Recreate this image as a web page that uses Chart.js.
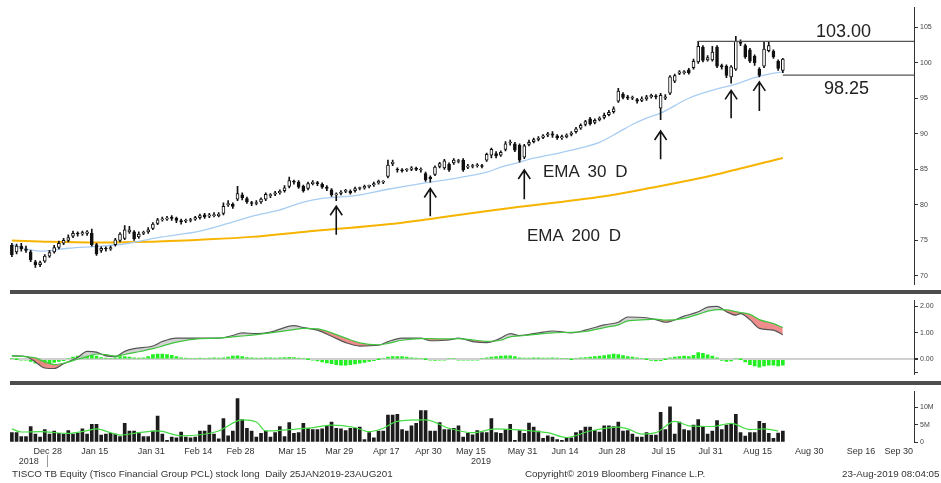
<!DOCTYPE html>
<html>
<head>
<meta charset="utf-8">
<script src="https://cdn.jsdelivr.net/npm/chart.js@4.4.1/dist/chart.umd.min.js"></script>
<style>
  body { margin: 0; background: #fff; width: 941px; height: 483px; overflow: hidden; position: relative; font-family: "Liberation Sans", Arial, sans-serif; }
  canvas { position: absolute; left: 0; }
  .t { position: absolute; white-space: nowrap; color: #222; }
  .big { font-size: 17px; line-height: 20px; word-spacing: 4px; }
  .lvl { font-size: 18px; line-height: 20px; }
  .foot { font-size: 9.8px; line-height: 12px; top: 468px; color: #333; }
  .sep { position: absolute; left: 10px; width: 931px; height: 4px; background: #4d4d4d; }
</style>
</head>
<body>
<canvas id="price" width="941" height="291" style="top:0"></canvas>
<div class="sep" style="top:290px"></div>
<canvas id="macd" width="941" height="87" style="top:294px"></canvas>
<div class="sep" style="top:381px"></div>
<canvas id="vol" width="941" height="85" style="top:385px"></canvas>

<div class="t big" style="left:543px;top:162px">EMA 30 D</div>
<div class="t big" style="left:527px;top:226px">EMA 200 D</div>
<div class="t lvl" id="lvlHi" style="left:816px;top:21px"></div>
<div class="t lvl" id="lvlLo" style="left:824px;top:78px"></div>
<div class="t foot" style="left:12px">TISCO TB Equity (Tisco Financial Group PCL) stock long&nbsp; Daily 25JAN2019-23AUG201</div>
<div class="t foot" style="left:525px">Copyright© 2019 Bloomberg Finance L.P.</div>
<div class="t foot" style="left:842px">23-Aug-2019 08:04:05</div>

<script>
// daily candles, trading day index 0 = 19 Dec 2018 ... 164 = 23 Aug 2019
var open = [74.3,73.4,74.2,73.8,73.4,72.0,71.6,72.1,72.8,73.4,
  74.0,74.6,75.0,75.6,76.0,75.9,76.0,76.0,74.4,73.6,
  73.9,73.8,74.4,75.0,75.3,76.2,76.2,75.5,76.0,76.2,
  76.7,77.4,77.9,78.0,78.3,78.1,77.8,77.7,77.8,78.0,
  78.2,78.6,78.4,78.5,78.5,78.8,80.0,80.1,80.8,81.4,
  80.9,80.3,80.2,80.4,80.8,81.3,81.5,81.7,82.0,82.6,
  83.3,83.2,82.6,82.3,83.0,83.1,82.9,82.5,82.1,81.4,
  81.6,81.9,81.9,82.0,82.3,82.4,82.6,82.8,83.1,83.2,
  84.0,85.8,85.0,84.9,84.9,85.0,85.1,84.9,84.4,83.9,
  84.3,85.4,85.2,85.7,85.9,86.1,86.3,85.3,85.4,85.5,
  85.5,86.3,87.0,87.2,87.0,87.8,88.7,88.6,88.4,86.7,
  88.5,88.9,89.2,89.5,89.8,90.0,89.7,89.4,89.6,89.9,
  90.3,90.8,91.3,92.1,91.6,92.0,92.3,92.7,93.1,94.6,
  95.6,95.2,95.0,94.8,94.7,94.9,95.2,95.3,93.6,95.0,
  95.7,97.4,98.5,98.6,99.0,99.3,100.1,102.2,100.4,100.4,
  102.2,99.6,99.5,98.0,99.1,103.0,102.4,101.8,100.9,99.1,
  99.5,101.7,101.6,100.2,98.9];
var high = [74.6,74.5,74.6,74.2,73.6,72.2,72.1,73.0,73.6,74.3,
  74.9,75.3,75.8,76.3,76.2,76.3,76.4,76.6,74.6,74.1,
  74.1,74.2,75.3,76.1,77.1,77.0,76.4,76.2,76.3,76.8,
  77.5,78.1,78.3,78.4,78.5,78.3,78.0,78.0,78.1,78.4,
  78.7,78.8,78.8,78.9,78.9,80.3,80.6,80.3,82.6,81.7,
  81.1,80.5,80.6,81.0,81.7,81.6,81.9,82.1,82.7,83.9,
  83.5,83.4,82.8,83.2,83.4,83.3,83.1,82.7,82.3,81.7,
  82.0,82.2,82.1,82.5,82.5,82.8,82.8,83.2,83.5,83.4,
  86.3,86.3,85.2,85.1,85.1,85.4,85.3,85.2,84.6,84.1,
  85.5,86.0,86.4,85.9,86.5,86.4,86.5,85.7,85.7,85.8,
  85.7,87.3,88.0,87.5,87.6,88.9,89.1,88.8,88.6,88.5,
  89.1,89.4,89.6,89.9,90.2,90.3,89.9,89.8,90.0,90.3,
  90.9,91.4,91.9,92.3,92.1,92.4,92.9,93.3,93.8,96.4,
  95.8,95.4,95.3,95.0,95.2,95.4,95.6,95.5,95.7,95.5,
  98.2,98.4,98.9,98.9,99.2,100.5,103.0,102.4,101.0,102.3,
  102.4,99.8,99.7,99.6,103.7,103.2,102.6,102.0,101.1,99.3,
  103.0,103.0,101.8,100.4,100.6];
var low = [72.7,73.1,73.5,73.3,72.0,71.2,71.3,71.9,72.6,73.2,
  73.8,74.4,74.8,75.4,75.6,75.7,75.7,74.2,72.9,73.3,
  73.5,73.6,74.2,74.8,75.1,76.0,75.0,75.3,75.8,76.0,
  76.5,77.2,77.7,77.8,77.8,77.5,77.3,77.5,77.6,77.8,
  78.0,78.1,78.2,78.3,78.3,78.6,79.8,79.5,80.6,80.7,
  80.2,79.9,80.0,80.2,80.6,81.0,81.3,81.5,81.8,82.4,
  82.9,82.3,81.8,82.1,82.8,82.7,82.3,82.0,81.2,80.6,
  81.4,81.7,81.5,81.8,82.1,82.2,82.4,82.6,82.9,83.0,
  83.8,85.5,84.6,84.6,84.7,84.8,84.8,84.6,83.3,83.2,
  84.1,85.2,85.0,84.7,85.7,85.9,84.7,85.1,85.2,85.3,
  85.2,86.1,86.6,86.6,86.8,87.6,88.4,87.5,86.0,86.5,
  88.3,88.7,89.0,89.3,89.6,89.5,89.2,89.2,89.4,89.7,
  90.1,90.6,91.1,91.2,91.4,91.8,92.1,92.5,92.9,94.4,
  94.9,94.8,94.8,94.3,94.5,94.7,95.0,94.9,92.0,94.8,
  95.5,97.2,98.3,98.4,98.4,99.1,99.9,100.1,100.2,100.2,
  99.3,99.1,97.9,97.1,98.9,102.4,100.6,100.0,99.6,98.0,
  99.3,101.5,100.6,98.9,98.6];
var close = [73.0,74.2,73.8,73.6,72.3,71.6,71.9,72.8,73.3,74.0,
  74.6,75.0,75.4,76.0,75.9,76.1,76.2,74.4,73.1,73.9,
  73.8,74.0,75.1,75.9,76.5,76.5,75.2,75.9,76.1,76.5,
  77.3,77.9,78.0,78.1,78.1,77.8,77.6,77.8,77.9,78.2,
  78.5,78.3,78.6,78.6,78.7,79.8,80.2,79.8,81.6,81.0,
  80.4,80.2,80.3,80.8,81.5,81.3,81.7,81.9,82.4,83.4,
  83.2,82.5,82.0,83.0,83.2,83.0,82.5,82.3,81.4,81.5,
  81.8,82.0,81.7,82.3,82.3,82.6,82.6,83.0,83.3,83.2,
  85.6,86.0,84.9,84.8,84.9,85.2,85.0,84.9,83.5,83.7,
  85.3,85.8,86.2,84.9,86.3,86.2,84.9,85.4,85.4,85.6,
  85.4,87.1,87.8,86.9,87.4,88.6,88.8,87.7,86.3,88.3,
  88.8,89.2,89.4,89.7,90.0,89.8,89.4,89.6,89.8,90.1,
  90.7,91.2,91.7,91.4,91.9,92.2,92.6,93.0,93.5,96.0,
  95.1,95.0,95.1,94.6,94.9,95.2,95.4,95.2,95.4,95.2,
  98.0,98.2,98.7,98.7,98.6,100.2,102.3,100.3,100.7,101.5,
  99.5,99.4,98.2,99.4,103.0,102.7,100.8,100.2,100.0,98.2,
  101.9,102.4,100.8,99.2,100.5];

// moving averages (read at sample days)
var ema30Day = [0,6,12,19,24,31,40,48,51,57,62,66,73,80,87,94,101,104,108,110,117,125,129,132,135,138,144,150,154,158,161,164];
var ema30 = [74.4,73.5,73.9,74.2,74.5,75.4,76.3,77.8,78.4,79.3,80.4,80.9,81.3,82.2,83.0,83.7,84.6,85.3,86.0,86.4,87.4,88.8,90.2,91.3,92.2,92.9,95.0,96.3,97.0,97.9,98.4,98.7];
var ema200Day = [0,8,19,29,40,51,62,83,104,126,136,146,164];
var ema200 = [75.0,74.8,74.7,74.8,75.1,75.5,76.2,77.5,79.4,81.2,82.4,83.7,86.6];

// resistance / support
var levels = [103.00, 98.25];
var levelFrom = [146, 164];

// arrows: day, tip price, tail price
var arrowDay = [69, 89, 109, 138, 153, 159];
var arrowTip = [79.8, 82.3, 84.9, 90.4, 96.1, 97.3];
var arrowTail = [75.8, 78.4, 80.8, 86.4, 92.2, 93.2];

// MACD
var macdDay = [0,3,5,7,9,11,14,16,18,20,22,24,26,30,32,35,40,44,47,49,52,55,60,62,65,68,71,74,78,80,83,87,89,93,95,98,101,104,106,108,112,115,119,122,126,129,131,135,137,139,143,146,148,150,152,154,155,157,159,162,164];
var macdLine = [0.13,0.10,-0.10,-0.33,-0.35,-0.17,0.07,0.30,0.27,0.13,0.10,0.30,0.40,0.50,0.67,0.80,0.80,0.80,0.90,1.00,0.97,1.03,1.27,1.20,1.10,0.87,0.63,0.50,0.53,0.67,0.80,0.80,0.70,0.73,0.80,0.67,0.63,0.80,0.97,0.90,1.00,1.07,1.00,1.10,1.30,1.40,1.60,1.57,1.50,1.40,1.63,1.80,1.97,2.00,1.80,1.67,1.73,1.50,1.17,1.10,0.93];
var macdSignal = [0.13,0.10,0.05,-0.10,-0.20,-0.15,0.00,0.10,0.20,0.18,0.12,0.18,0.25,0.40,0.50,0.65,0.78,0.80,0.85,0.88,0.93,1.00,1.12,1.17,1.15,1.00,0.80,0.62,0.55,0.60,0.72,0.78,0.78,0.77,0.78,0.73,0.68,0.72,0.85,0.88,0.95,1.00,1.02,1.05,1.20,1.30,1.45,1.50,1.52,1.48,1.55,1.70,1.82,1.88,1.87,1.80,1.77,1.70,1.50,1.35,1.20];
var macdHist = [0.02,0.00,-0.02,-0.03,-0.08,-0.15,-0.20,-0.22,-0.18,-0.12,
  -0.08,-0.05,0.03,0.08,0.12,0.15,0.17,0.17,0.12,0.06,
  0.04,0.03,0.05,0.10,0.10,0.08,0.05,0.04,0.05,0.10,
  0.18,0.20,0.20,0.18,0.15,0.10,0.05,0.04,0.03,0.03,
  0.04,0.03,0.04,0.05,0.04,0.05,0.08,0.12,0.13,0.10,
  0.06,0.05,0.04,0.04,0.05,0.05,0.04,0.05,0.06,0.07,
  0.06,0.04,0.02,0.00,-0.03,-0.06,-0.10,-0.14,-0.17,-0.20,
  -0.22,-0.22,-0.20,-0.18,-0.15,-0.12,-0.08,-0.05,0.00,0.03,
  0.08,0.10,0.10,0.10,0.08,0.05,0.04,0.02,0.00,-0.02,
  -0.04,-0.03,-0.01,0.02,0.01,-0.02,-0.03,-0.03,-0.02,-0.02,
  0.02,0.05,0.08,0.10,0.12,0.13,0.13,0.10,0.05,0.04,
  0.04,0.05,0.05,0.04,0.04,0.05,0.04,0.03,0.02,0.00,
  0.03,0.05,0.06,0.08,0.10,0.12,0.14,0.17,0.20,0.18,
  0.14,0.10,0.08,0.05,0.03,0.00,-0.04,-0.06,-0.05,0.00,
  0.05,0.08,0.10,0.12,0.10,0.15,0.25,0.22,0.17,0.12,
  0.05,-0.04,-0.08,-0.06,0.02,0.00,-0.10,-0.20,-0.25,-0.30,
  -0.25,-0.22,-0.22,-0.25,-0.22];

// volume, millions
var volume = [2.7,2.7,1.6,1.6,4.5,2.3,1.4,3.6,2.3,3.2,
  2.5,2.3,3.3,2.3,2.5,3.8,2.3,5.1,5.1,2.0,
  2.3,2.5,2.3,1.6,5.4,3.2,3.2,2.7,1.6,1.6,
  3.2,7.5,2.3,0.5,1.4,1.2,2.9,1.4,1.2,1.4,
  3.2,3.2,4.9,2.3,0.9,6.8,1.8,3.2,12.6,6.5,
  4.0,3.2,1.4,2.5,3.2,1.4,2.7,4.5,1.6,5.6,
  2.5,2.7,5.4,3.9,3.6,3.6,3.8,4.7,5.8,4.0,
  3.8,3.3,4.0,4.0,4.3,0.7,2.7,1.2,3.2,3.2,
  7.8,7.8,8.0,3.6,3.2,4.7,5.4,9.1,9.1,3.2,
  3.2,5.6,3.6,3.6,4.0,4.7,1.4,2.5,2.1,3.3,
  2.7,2.7,6.8,2.7,2.5,3.6,5.1,0.5,3.3,2.5,
  5.5,4.3,3.2,1.1,1.8,1.4,0.7,0.5,1.2,1.2,
  2.7,3.3,4.3,4.3,3.3,2.9,4.7,4.7,4.5,5.8,
  3.2,3.3,2.3,1.4,1.4,2.7,2.0,2.0,8.6,3.6,
  10.2,2.3,5.8,3.6,3.3,4.9,6.5,4.5,2.3,3.2,
  6.2,3.6,4.9,5.4,8.0,2.7,1.7,2.7,2.7,6.0,
  5.4,2.5,1.1,2.6,3.2];
var volMaDay = [0,2,6,12,16,18,21,23,27,31,36,40,44,49,52,54,59,63,68,73,76,79,82,88,93,98,103,110,114,118,123,129,131,134,137,141,144,149,153,157,160,163];
var volMa = [3.8,2.9,3.0,2.5,3.3,3.8,2.7,2.0,2.7,3.2,1.8,2.1,3.2,6.4,5.8,3.2,3.6,4.0,4.9,4.2,3.0,4.0,6.0,6.4,4.0,2.7,3.8,3.3,2.7,1.3,3.2,4.3,3.8,2.3,2.7,6.0,4.7,4.5,5.4,3.6,3.8,3.2];

// axes
var priceTicks = [70,75,80,85,90,95,100,105];
var macdTicks = [-0.5,0,1,2];
var volTicks = [0,5,10];
var tickLabels = ['Dec 28','Jan 15','Jan 31','Feb 14','Feb 28','Mar 15','Mar 29','Apr 17','Apr 30','May 15','May 31','Jun 14','Jun 28','Jul 15','Jul 31','Aug 15','Aug 30','Sep 16','Sep 30'];
var tickDays = [7,17,29,39,48,59,69,79,88,97,108,117,127,138,148,158,169,180,188];
var yearLabels = ['2018','2019'];
var yearDays = [3.6,99.8];
var yearBreak = 7.5;

var xMin = -0.4, xMax = 191.9;
var FONT = '"Liberation Sans", Arial, sans-serif';

document.getElementById('lvlHi').textContent = levels[0].toFixed(2);
document.getElementById('lvlLo').textContent = levels[1].toFixed(2);

function pts(days, vals) { return days.map(function (d, i) { return { x: d, y: vals[i] }; }); }

function xAxis() { return { type: 'linear', min: xMin, max: xMax, offset: false, display: false }; }

function yAxis(min, max, ticks, fmt, grid) {
  return {
    position: 'right', min: min, max: max,
    afterFit: function (s) { s.width = 27; },
    afterBuildTicks: function (s) { s.ticks = ticks.map(function (v) { return { value: v }; }); },
    grid: Object.assign({ drawOnChartArea: false, drawTicks: true, tickLength: 4, tickColor: '#333' }, grid || {}),
    border: { display: true, color: '#333', width: 1 },
    ticks: { font: { size: 7, family: FONT }, color: '#444', padding: 2, callback: fmt }
  };
}

var baseOpts = {
  responsive: false, animation: false, devicePixelRatio: 1,
  plugins: { legend: { display: false }, tooltip: { enabled: false } }
};

var arrows = {
  id: 'arrows',
  afterDatasetsDraw: function (c) {
    var ctx = c.ctx, x = c.scales.x, y = c.scales.y;
    ctx.save();
    ctx.strokeStyle = '#111';
    ctx.lineWidth = 1.6;
    arrowDay.forEach(function (d, i) {
      var px = x.getPixelForValue(d), top = y.getPixelForValue(arrowTip[i]), bot = y.getPixelForValue(arrowTail[i]);
      ctx.beginPath();
      ctx.moveTo(px, bot); ctx.lineTo(px, top);
      ctx.moveTo(px - 6, top + 9); ctx.lineTo(px, top); ctx.lineTo(px + 6, top + 9);
      ctx.stroke();
    });
    ctx.restore();
  }
};

// price panel
var days = close.map(function (v, i) { return i; });
new Chart(document.getElementById('price'), {
  type: 'bar',
  data: {
    datasets: [
      { type: 'line', data: pts(ema200Day, ema200), borderColor: '#f6b400', borderWidth: 2, pointRadius: 0, cubicInterpolationMode: 'monotone', order: 6 },
      { type: 'line', data: pts(ema30Day, ema30), borderColor: '#a8cdf3', borderWidth: 1.3, pointRadius: 0, cubicInterpolationMode: 'monotone', order: 5 },
      { data: days.map(function (i) { return { x: i, y: [low[i], high[i]] }; }), backgroundColor: '#111', barThickness: 1, grouped: false, order: 4 },
      { data: days.map(function (i) { return { x: i, y: [open[i], close[i]] }; }),
        backgroundColor: days.map(function (i) { return close[i] >= open[i] ? '#ffffff' : '#111111'; }),
        borderColor: '#111', borderWidth: 1, borderSkipped: false, barThickness: 3, minBarLength: 1, grouped: false, order: 3 },
      { type: 'line', data: [{ x: levelFrom[0], y: levels[0] }, { x: xMax, y: levels[0] }], borderColor: '#555', borderWidth: 1.2, pointRadius: 0, order: 1 },
      { type: 'line', data: [{ x: levelFrom[1], y: levels[1] }, { x: xMax, y: levels[1] }], borderColor: '#555', borderWidth: 1.2, pointRadius: 0, order: 1 }
    ]
  },
  options: Object.assign({}, baseOpts, {
    layout: { padding: { left: 10, top: 7, right: 0, bottom: 1 } },
    scales: { x: xAxis(), y: yAxis(68.76, 107.83, priceTicks, function (v) { return String(v); }) }
  }),
  plugins: [arrows]
});

// MACD panel
new Chart(document.getElementById('macd'), {
  type: 'bar',
  data: {
    datasets: [
      { type: 'line', data: pts(macdDay, macdLine), borderColor: '#555', borderWidth: 1.2, pointRadius: 0, cubicInterpolationMode: 'monotone',
        fill: { target: '+1', above: 'rgba(205,205,205,0.9)', below: 'rgba(240,128,128,0.9)' }, order: 2 },
      { type: 'line', data: pts(macdDay, macdSignal), borderColor: '#3ec63e', borderWidth: 1.2, pointRadius: 0, cubicInterpolationMode: 'monotone', fill: false, order: 1 },
      { data: days.map(function (i) { return { x: i, y: macdHist[i] }; }), backgroundColor: '#22ee22', barThickness: 3, minBarLength: 1, grouped: false, order: 3 }
    ]
  },
  options: Object.assign({}, baseOpts, {
    layout: { padding: { left: 10, top: 2, right: 0, bottom: 1 } },
    scales: {
      x: xAxis(),
      y: yAxis(-0.588, 2.235, macdTicks, function (v) { return v >= 0 ? v.toFixed(2) : ''; }, {
        drawOnChartArea: true,
        color: function (c) { return c.tick && c.tick.value === 0 ? '#d0d0d0' : 'rgba(0,0,0,0)'; },
        lineWidth: function (c) { return c.tick && c.tick.value === 0 ? 2 : 1; }
      })
    }
  })
});

// volume panel + date axis
var dateAxis = {
  id: 'dateAxis',
  afterDraw: function (c) {
    var ctx = c.ctx, x = c.scales.x;
    ctx.save();
    ctx.font = '9px ' + FONT;
    ctx.fillStyle = '#333';
    ctx.textAlign = 'center';
    ctx.textBaseline = 'middle';
    tickLabels.forEach(function (t, i) { ctx.fillText(t, x.getPixelForValue(tickDays[i]) + 3, 67); });
    yearLabels.forEach(function (t, i) { ctx.fillText(t, x.getPixelForValue(yearDays[i]), 77); });
    var bx = Math.round(x.getPixelForValue(yearBreak)) + 0.5;
    ctx.strokeStyle = '#999';
    ctx.lineWidth = 1;
    ctx.beginPath(); ctx.moveTo(bx, 70); ctx.lineTo(bx, 82); ctx.stroke();
    ctx.restore();
  }
};

new Chart(document.getElementById('vol'), {
  type: 'bar',
  data: {
    datasets: [
      { type: 'line', data: pts(volMaDay, volMa), borderColor: '#44dd44', borderWidth: 1.2, pointRadius: 0, cubicInterpolationMode: 'monotone', order: 1 },
      { data: days.map(function (i) { return { x: i, y: volume[i] }; }), backgroundColor: '#1c1c1c', barThickness: 3, grouped: false, order: 2 }
    ]
  },
  options: Object.assign({}, baseOpts, {
    layout: { padding: { left: 10, top: 1, right: 0, bottom: 28 } },
    scales: { x: xAxis(), y: yAxis(0, 14.74, volTicks, function (v) { return v === 0 ? '0' : v + 'M'; }) }
  }),
  plugins: [dateAxis]
});
</script>
</body>
</html>
